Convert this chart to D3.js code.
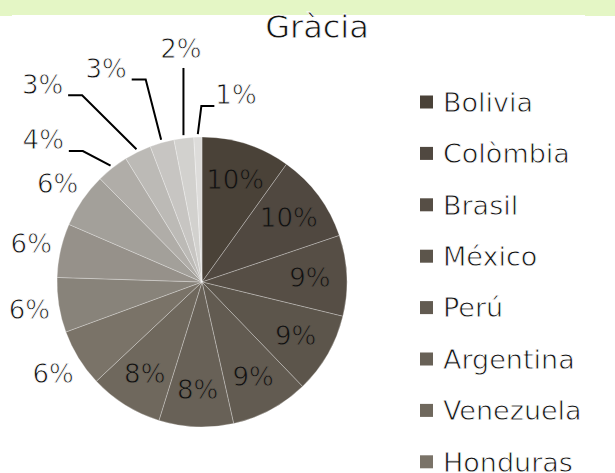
<!DOCTYPE html>
<html>
<head>
<meta charset="utf-8">
<script src="https://cdn.jsdelivr.net/npm/d3@7/dist/d3.min.js"></script>
<style>
  html, body { margin: 0; padding: 0; background: #fff; }
  svg { display: block; }
  text { font-family: 'DejaVu Sans', 'Noto Sans', sans-serif; fill: #111; }
</style>
</head>
<body>
<div id="chart"></div>
<script>
/* --- dades ------------------------------------------------------------- */
var titol = 'Gràcia';
var paisos = ['Bolivia', 'Colòmbia', 'Brasil', 'México', 'Perú', 'Argentina',
              'Venezuela', 'Honduras', 'Equador', 'Xile', 'Cuba', 'Paraguai',
              'Uruguai', 'República Dominicana', 'El Salvador', 'Guatemala'];
var percentatges = [9.9, 9.9, 9.0, 9.0, 8.7, 8.3, 8.2, 6.4, 6.1, 6.0, 6.1, 3.6, 3.0, 2.7, 2.2, 0.9];
var colors = ['#4a4238', '#504840', '#564e45', '#5c554b', '#625b51', '#686157', '#6f685d', '#7a7368',
              '#88837a', '#96918a', '#a3a09a', '#b0ada8', '#bcbab6', '#c7c5c2', '#d2d1ce', '#dddcda'];

/* --- mides -------------------------------------------------------------- */
var W = 615, H = 473;
var cx = 202, cy = 282, R = 145;
var prim = 0.8;   // traç blanc damunt el text per aprimar la lletra

var svg = d3.select('#chart').append('svg').attr('width', W).attr('height', H);

/* franja verda de dalt */
svg.append('rect').attr('x', 0).attr('y', 0).attr('width', W).attr('height', 15).attr('fill', '#e4f6c5');
svg.append('rect').attr('x', 0).attr('y', 15).attr('width', 12).attr('height', 1).attr('fill', '#e4f6c5');
svg.append('rect').attr('x', 585).attr('y', 15).attr('width', 30).attr('height', 1).attr('fill', '#e4f6c5');

/* títol */
svg.append('text').attr('x', 317).attr('y', 38)
  .attr('text-anchor', 'middle').attr('font-size', 32)
  .attr('stroke', '#fff').attr('stroke-width', prim)
  .text(titol);

/* --- pastís ------------------------------------------------------------- */
var pie = d3.pie().sort(null).value(function (d) { return d; });
var arcs = pie(percentatges);
var arc = d3.arc().innerRadius(0).outerRadius(R);

var g = svg.append('g').attr('transform', 'translate(' + cx + ',' + cy + ')');

g.selectAll('path').data(arcs).join('path')
  .attr('d', arc)
  .attr('fill', function (d, i) { return colors[i]; })
  .attr('stroke', '#ffffff')
  .attr('stroke-opacity', 0.35)
  .attr('stroke-width', 0.8);

function mid(d) { return (d.startAngle + d.endAngle) / 2; }
function polar(a, r) { return [Math.sin(a) * r, -Math.cos(a) * r]; }
function pct(v) { return Math.round(v) + '%'; }

/* etiquetes dins (primeres 7) i fora (4 següents) */
var fontEt = 26;
arcs.forEach(function (d, i) {
  if (i >= 11) return;
  var r = i < 7 ? 108 : 175;
  var p = polar(mid(d), r);
  g.append('text')
    .attr('x', p[0]).attr('y', p[1]).attr('dy', '0.36em')
    .attr('text-anchor', 'middle').attr('font-size', fontEt)
    .attr('stroke', i < 7 ? colors[i] : '#fff').attr('stroke-width', prim)
    .text(pct(d.value));
});

/* etiquetes amb línia guia (llesques petites): angle (graus) i radi del text */
var guiaAngle = [311.8, 321.1, 335.8, 354.8, 10.3];
var guiaRadi  = [213, 254, 234, 234, 190];

arcs.slice(11).forEach(function (d, k) {
  var p = polar(guiaAngle[k] * Math.PI / 180, guiaRadi[k]);
  var t = g.append('text')
    .attr('x', p[0]).attr('y', p[1]).attr('dy', '0.36em')
    .attr('text-anchor', 'middle').attr('font-size', fontEt)
    .attr('stroke', '#fff').attr('stroke-width', prim)
    .text(pct(d.value));
  var bb = t.node().getBBox();
  var end = polar(mid(d), R + 3);
  var pts;
  var bottom = p[1] + 11;
  if (Math.abs(p[0] - end[0]) < 8) {
    pts = [[end[0], bottom + 8], end];
  } else if (p[0] < end[0]) {
    var sx = bb.x + bb.width + 5;
    pts = [[sx, bottom], [sx + 14, bottom], end];
  } else {
    var lx = bb.x - 1;
    pts = [[lx, bottom], [lx - 13, bottom], end];
  }
  g.append('path')
    .attr('d', d3.line()(pts))
    .attr('fill', 'none')
    .attr('stroke', '#000')
    .attr('stroke-width', 2);
});

/* --- llegenda (només les files que cauen dins del marc) ----------------- */
var pasLleg = 51.4, y0Lleg = 102;
var visibles = paisos.filter(function (d, i) { return y0Lleg + i * pasLleg - 13 < H; });
var leg = svg.append('g').selectAll('g').data(visibles).join('g')
  .attr('transform', function (d, i) { return 'translate(420,' + (y0Lleg + i * pasLleg) + ')'; });
leg.append('rect').attr('x', 0).attr('y', -6.5).attr('width', 13).attr('height', 13)
  .attr('fill', function (d, i) { return colors[i]; });
leg.append('text').attr('x', 23).attr('dy', '0.36em').attr('font-size', 27)
  .attr('stroke', '#fff').attr('stroke-width', prim)
  .text(function (d) { return d; });
</script>
</body>
</html>
